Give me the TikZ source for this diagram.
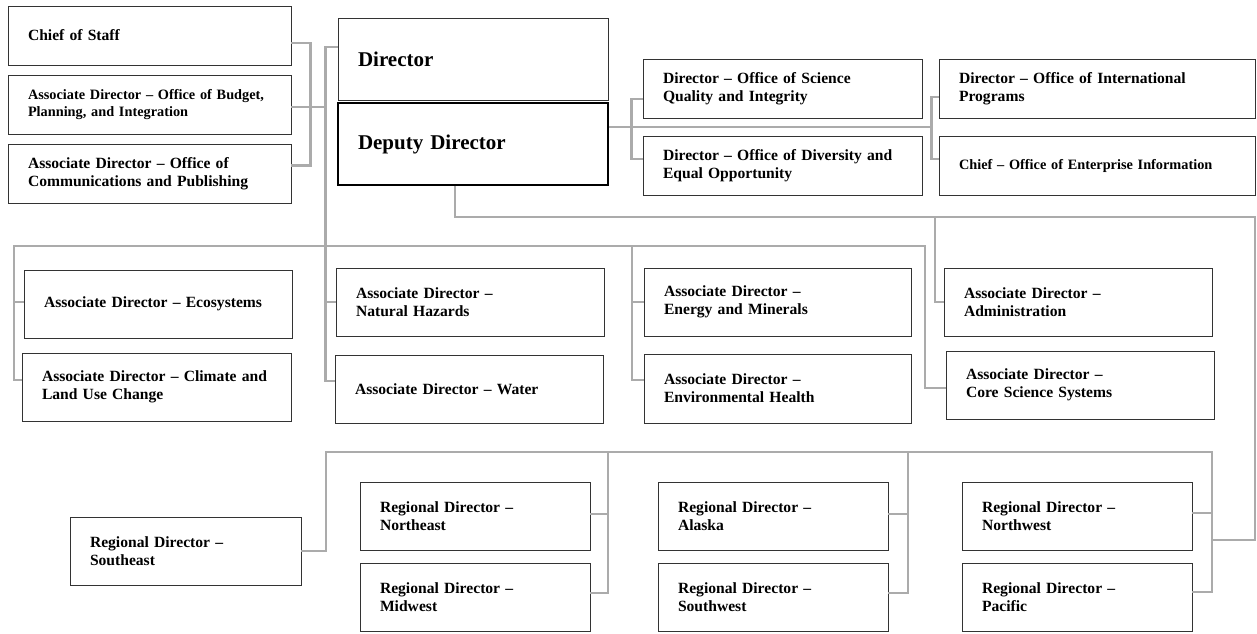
\documentclass[tikz,border=0pt]{standalone}
\usepackage{fontspec}
\setmainfont{Liberation Serif}
\tikzset{
  bx/.style={draw=black!80, line width=0.9pt, fill=white, align=left,
    inner xsep=20pt, inner ysep=0pt, anchor=center,
    font=\bfseries\fontsize{15.6}{18}\selectfont},
  bxsmall/.style={bx, font=\bfseries\fontsize{14.3}{17}\selectfont},
  bxbig/.style={bx, font=\bfseries\fontsize{21}{24}\selectfont},
  conn/.style={draw=black!33, line width=2.4pt},
  connthin/.style={draw=black!33, line width=2pt},
}
\begin{document}
\begin{tikzpicture}[x=1pt,y=-1pt]
\useasboundingbox (0,0) rectangle (1257,633);
% top-left staff
\node[bx, text width=243pt, minimum height=59pt] (cos) at (149.5,35.5) {Chief of Staff};
\node[bxsmall, text width=243pt, minimum height=59pt] (bud) at (149.5,104.5) {Associate Director -- Office of Budget,\\Planning, and Integration};
\node[bx, text width=243pt, minimum height=59pt] (com) at (149.5,173.5) {Associate Director -- Office of\\Communications and Publishing};
% director
\node[bxbig, text width=230pt, minimum height=82pt] (dir) at (473,59) {Director};
\node[bxbig, line width=1.6pt, draw=black, text width=230pt, minimum height=82pt] (dep) at (473,144) {Deputy Director};
% offices
\node[bx, text width=239pt, minimum height=59pt] (sqi) at (782.5,88.5) {Director -- Office of Science\\Quality and Integrity};
\node[bx, text width=239pt, minimum height=59pt] (div) at (782.5,165.5) {\mbox{Director -- Office of Diversity and}\\Equal Opportunity};
\node[bx, text width=276pt, minimum height=59pt] (intl) at (1097,88.5) {Director -- Office of International\\Programs};
\node[bxsmall, text width=276pt, minimum height=59pt] (ent) at (1097,165.5) {Chief -- Office of Enterprise Information};
% associate directors
\node[bx, text width=228pt, minimum height=68pt] (eco) at (158,304) {Associate Director -- Ecosystems};
\node[bx, text width=229pt, minimum height=68pt] (clim) at (156.5,387) {\mbox{Associate Director -- Climate and}\\Land Use Change};
\node[bx, text width=228pt, minimum height=68pt] (nat) at (470,302) {Associate Director --\\Natural Hazards};
\node[bx, text width=228pt, minimum height=68pt] (wat) at (469,389) {Associate Director -- Water};
\node[bx, text width=227pt, minimum height=68pt] (ene) at (777.5,302) {Associate Director --\\Energy and Minerals};
\node[bx, text width=227pt, minimum height=69pt] (env) at (777.5,388.5) {Associate Director --\\Environmental Health};
\node[bx, text width=228pt, minimum height=68pt] (adm) at (1078,302) {Associate Director --\\Administration};
\node[bx, text width=228pt, minimum height=68pt] (core) at (1080,385) {Associate Director --\\Core Science Systems};
% regional directors
\node[bx, text width=191pt, minimum height=68pt] (se) at (185.5,551) {Regional Director --\\Southeast};
\node[bx, text width=190pt, minimum height=68pt] (ne) at (475,516) {Regional Director --\\Northeast};
\node[bx, text width=190pt, minimum height=68pt] (mw) at (475,597) {Regional Director --\\Midwest};
\node[bx, text width=190pt, minimum height=68pt] (ak) at (773,516) {Regional Director --\\Alaska};
\node[bx, text width=190pt, minimum height=68pt] (sw) at (773,597) {Regional Director --\\Southwest};
\node[bx, text width=190pt, minimum height=68pt] (nw) at (1077,516) {Regional Director --\\Northwest};
\node[bx, text width=190pt, minimum height=68pt] (pac) at (1077,597) {Regional Director --\\Pacific};
% helper coordinates
\coordinate (rt) at (1255,217);
\coordinate (rj) at (1212,540);
\coordinate (bl) at (14,246);
\coordinate (bm) at (632,246);
\coordinate (br) at (925,246);
\coordinate (gl) at (326,452);
\coordinate (g1) at (608,452);
\coordinate (g2) at (908,452);
\coordinate (gr) at (1212,452);
% staff bracket
\draw[conn] ([yshift=-7.5pt]cos.east) -- ++(19,0) |- ([yshift=8pt]com.east);
\draw[conn] ([yshift=-2.5pt]bud.east) -- ++(35,0);
% main vertical
\draw[conn] ([yshift=12pt]dir.west) -- ++(-12,0) |- ([yshift=8pt]wat.west);
\draw[conn] (nat.west) -- ++(-10,0);
% deputy to offices
\draw[conn] ([yshift=17pt]dep.east) -- ++(324,0);
\draw[conn] ([yshift=-10.5pt]sqi.west) -- ++(-11,0) |- ([yshift=6.5pt]div.west);
\draw[conn] ([yshift=-8.5pt]intl.west) -- ++(-7,0) |- ([yshift=6.5pt]ent.west);
% deputy to regions
\draw[connthin] ([xshift=-18pt]dep.south) |- (rt) |- (rj);
\draw[connthin] (adm.west) -- ++(-9,0) |- (rt);
% associate directors bar
\draw[conn] ([yshift=7pt]clim.west) -| (bl) -- (br) |- ([yshift=-3pt]core.west);
\draw[conn] ([yshift=2pt]eco.west) -- ++(-10,0);
\draw[conn] ([yshift=8.5pt]env.west) -| (bm);
\draw[conn] (ene.west) -- ++(-12,0);
% regional bar
\draw[conn] (se.east) -| (gl) -- (gr) |- ([yshift=5pt]pac.east);
\draw[conn] ([yshift=3pt]nw.east) -- ++(20,0);
\draw[conn] ([yshift=4pt]mw.east) -| (g1);
\draw[conn] ([yshift=2pt]ne.east) -- ++(18,0);
\draw[conn] ([yshift=4pt]sw.east) -| (g2);
\draw[conn] ([yshift=2pt]ak.east) -- ++(20,0);
\end{tikzpicture}
\end{document}
